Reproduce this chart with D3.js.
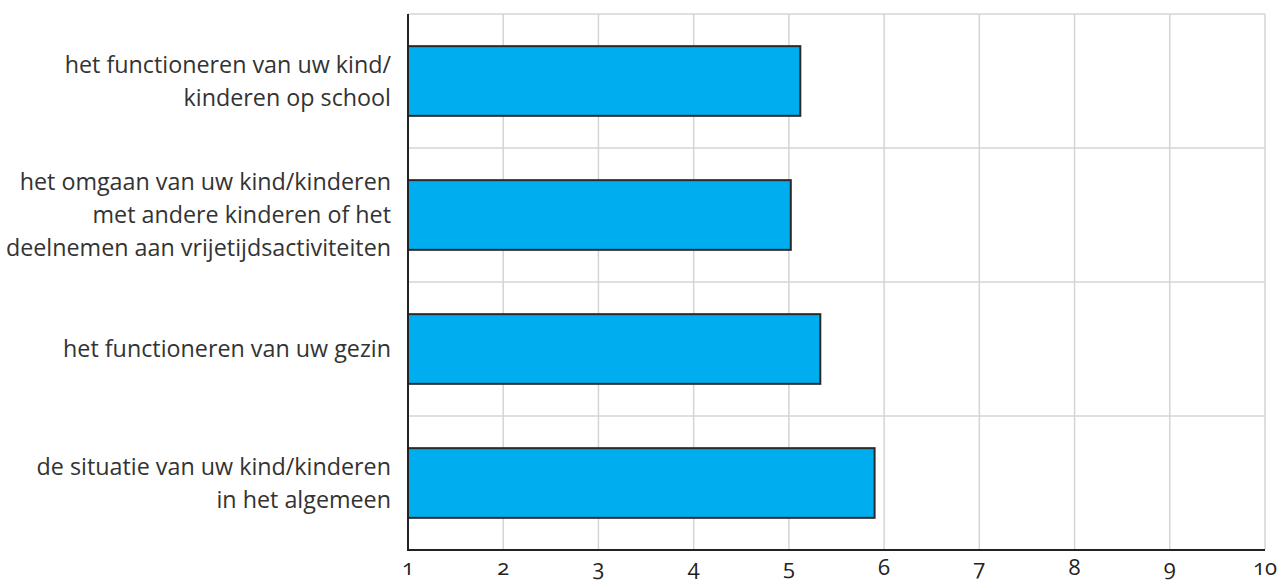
<!DOCTYPE html>
<html><head><meta charset="utf-8">
<script src="https://cdn.jsdelivr.net/npm/d3@7"></script>
<style>
body{margin:0;background:#fff;}
text{font-family:"Open Sans",sans-serif;}
</style></head>
<body><svg id="c" width="1277" height="584"></svg>
<script>
const categories = [
  ["het functioneren van uw kind/","kinderen op school"],
  ["het omgaan van uw kind/kinderen","met andere kinderen of het","deelnemen aan vrijetijdsactiviteiten"],
  ["het functioneren van uw gezin"],
  ["de situatie van uw kind/kinderen","in het algemeen"]
];
const values = [5.12, 5.02, 5.33, 5.90];
const tickValues = [1,2,3,4,5,6,7,8,9,10];

(function(){
const svg = d3.select("#c");
const mLeft = 408, mRight = 1265, mTop = 14, mBottom = 550;
const x = d3.scaleLinear().domain([1,10]).range([mLeft,mRight]);
const y = d3.scaleBand().domain(d3.range(categories.length)).range([mTop,mBottom]).paddingInner(0).paddingOuter(0);
const barPad = 0.24;

// vertical gridlines
svg.append("g").selectAll("line").data(tickValues.slice(1)).join("line")
  .attr("x1",d=>x(d)).attr("x2",d=>x(d)).attr("y1",mTop).attr("y2",mBottom)
  .attr("stroke","#d4d4d4").attr("stroke-width",1.5);
// horizontal gridlines (band boundaries)
svg.append("g").selectAll("line").data(d3.range(categories.length)).join("line")
  .attr("x1",mLeft).attr("x2",mRight).attr("y1",d=>y(d)).attr("y2",d=>y(d))
  .attr("stroke","#d4d4d4").attr("stroke-width",1.5);

// bars
svg.append("g").selectAll("rect").data(values).join("rect")
  .attr("x",x(1)).attr("y",(d,i)=>y(i)+y.bandwidth()*barPad)
  .attr("width",d=>x(d)-x(1)).attr("height",y.bandwidth()*(1-2*barPad))
  .attr("fill","#00aeef").attr("stroke","#2a2a2a").attr("stroke-width",2);

// axes lines
svg.append("line").attr("x1",mLeft).attr("x2",mLeft).attr("y1",mTop).attr("y2",mBottom+1)
  .attr("stroke","#222").attr("stroke-width",2);
svg.append("line").attr("x1",mLeft-1).attr("x2",mRight).attr("y1",mBottom).attr("y2",mBottom)
  .attr("stroke","#222").attr("stroke-width",2);

// x tick labels
svg.append("g").selectAll("text").data(tickValues).join("text")
  .attr("x",d=>x(d)).attr("y",575).attr("text-anchor","middle")
  .attr("font-size",22).attr("fill","#222")
  .style("font-feature-settings","'onum'")
  .text(d=>d);

// category labels
const lh = 33;
categories.forEach((lines,i)=>{
  const cy = y(i)+y.bandwidth()/2;
  const t = svg.append("text").attr("text-anchor","end").attr("font-size",23.3).attr("fill","#333");
  lines.forEach((l,j)=>{
    t.append("tspan").attr("x",391).attr("y",cy + (j-(lines.length-1)/2)*lh + 8).text(l);
  });
});
})();
</script></body></html>
